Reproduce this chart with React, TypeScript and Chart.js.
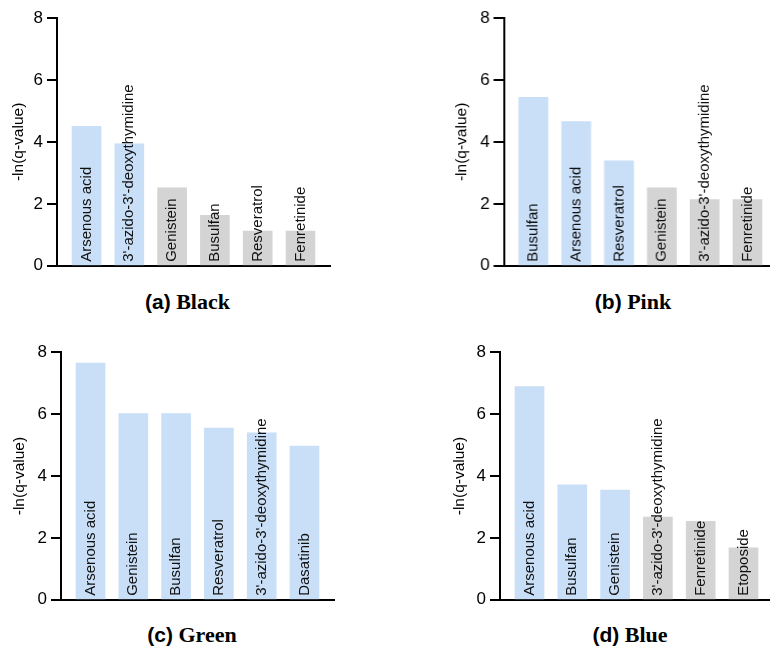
import React, { useEffect, useRef } from "react";
import { Chart, registerables } from "chart.js";

Chart.register(...registerables);

// ---- data ----
const BLACK_LABELS = ["Arsenous acid", "3'-azido-3'-deoxythymidine", "Genistein", "Busulfan", "Resveratrol", "Fenretinide"];
const BLACK_VALUES = [4.5, 3.94, 2.52, 1.63, 1.12, 1.12];

const PINK_LABELS = ["Busulfan", "Arsenous acid", "Resveratrol", "Genistein", "3'-azido-3'-deoxythymidine", "Fenretinide"];
const PINK_VALUES = [5.44, 4.66, 3.39, 2.52, 2.14, 2.14];

const GREEN_LABELS = ["Arsenous acid", "Genistein", "Busulfan", "Resveratrol", "3'-azido-3'-deoxythymidine", "Dasatinib"];
const GREEN_VALUES = [7.65, 6.02, 6.02, 5.55, 5.4, 4.97];

const BLUE_LABELS = ["Arsenous acid", "Busulfan", "Genistein", "3'-azido-3'-deoxythymidine", "Fenretinide", "Etoposide"];
const BLUE_VALUES = [6.89, 3.72, 3.55, 2.67, 2.54, 1.68];

const Y_TICKS = [0, 2, 4, 6, 8];
const THRESHOLD = 3; // -ln(0.05)
const Y_TITLE = "-ln(q-value)";

const BLUE = "#c9def7";
const GRAY = "#d4d4d4";
const SANS = "'Liberation Sans', Arial, sans-serif";
const SERIF = "'Liberation Serif', 'Times New Roman', serif";

type PanelProps = {
  labels: string[];
  values: number[];
  tag: string;
  name: string;
  canvasLeft: number;
  canvasTop: number;
  axisX: number;
  areaTop: number;
  areaBottom: number;
  yTitleX: number;
  titleCenterX: number;
  titleY: number;
};

const panelPlugin = {
  id: "panelMarks",
  afterDraw(chart: any, _args: any, opts: any) {
    const labels: string[] = opts.labels || [];
    const meta = chart.getDatasetMeta(0);
    const ctx = chart.ctx;
    const area = chart.chartArea;
    const y = chart.scales.y;

    // outward y tick marks
    ctx.save();
    ctx.fillStyle = "#000";
    Y_TICKS.forEach((v) => {
      const py = Math.round(y.getPixelForValue(v));
      ctx.fillRect(area.left - 10, py - 1, 10, 2);
    });
    ctx.restore();

    // rotated category labels on the bars
    ctx.save();
    ctx.font = `15px ${SANS}`;
    ctx.fillStyle = "#111";
    ctx.textAlign = "left";
    ctx.textBaseline = "middle";
    meta.data.forEach((el: any, i: number) => {
      ctx.save();
      ctx.translate(el.x, area.bottom - 4);
      ctx.rotate(-Math.PI / 2);
      ctx.fillText(labels[i] ?? "", 0, 0);
      ctx.restore();
    });
    ctx.restore();
  },
};

function Panel(p: PanelProps) {
  const ref = useRef<HTMLCanvasElement | null>(null);
  const AREA_W = 273;
  const canvasW = p.axisX - p.canvasLeft + AREA_W + 2;
  const canvasH = p.areaBottom - p.canvasTop + 12;

  useEffect(() => {
    if (!ref.current) return;
    const yWidth = p.axisX - p.canvasLeft;
    const chart = new Chart(ref.current, {
      type: "bar",
      data: {
        labels: p.labels,
        datasets: [
          {
            data: p.values.map((v, i) => ({ x: i, y: v })) as any,
            backgroundColor: p.values.map((v) => (v >= THRESHOLD ? BLUE : GRAY)),
            borderWidth: 0,
            barThickness: 29,
          },
        ],
      },
      options: {
        responsive: false,
        animation: false,
        layout: { padding: { top: p.areaTop - p.canvasTop, right: 2, left: 0, bottom: 0 } },
        plugins: {
          legend: { display: false },
          tooltip: { enabled: false },
          title: { display: false },
          panelMarks: { labels: p.labels },
        } as any,
        scales: {
          x: {
            type: "linear",
            offset: false,
            min: -0.69,
            max: 5.69,
            grid: { display: false },
            border: { display: true, color: "#000", width: 2 },
            ticks: { display: false },
            afterFit: (s: any) => {
              s.height = 12;
            },
          },
          y: {
            min: 0,
            max: 8,
            afterBuildTicks: (s: any) => {
              s.ticks = Y_TICKS.map((v) => ({ value: v }));
            },
            grid: {
              display: true,
              drawOnChartArea: false,
              drawTicks: true,
              tickLength: 10,
              color: "#000",
              tickColor: "#000",
              tickWidth: 2,
              lineWidth: 2,
            },
            border: { display: true, color: "#000", width: 2 },
            ticks: { color: "#000", font: { family: SANS, size: 17 }, padding: 4 },
            title: {
              display: true,
              text: Y_TITLE,
              color: "#000",
              font: { family: SANS, size: 15.5 },
              padding: { top: p.yTitleX - p.canvasLeft - 9.3, bottom: 0 },
            },
            afterFit: (s: any) => {
              s.width = yWidth;
            },
          },
        },
      },
      plugins: [panelPlugin],
    });
    return () => chart.destroy();
  }, []);

  return (
    <>
      <canvas
        ref={ref}
        width={canvasW}
        height={canvasH}
        style={{ position: "absolute", left: p.canvasLeft, top: p.canvasTop, width: canvasW, height: canvasH }}
      />
      <div
        style={{
          position: "absolute",
          left: p.titleCenterX - 150,
          width: 300,
          top: p.titleY - 14,
          height: 28,
          lineHeight: "28px",
          textAlign: "center",
          fontFamily: SERIF,
          fontWeight: "bold",
          fontSize: 22,
          color: "#000",
          whiteSpace: "pre",
        }}
      >
        <span style={{ fontFamily: SANS, fontSize: 21 }}>{p.tag}</span>
        {" " + p.name}
      </div>
    </>
  );
}

export default function App() {
  return (
    <div
      style={{
        position: "fixed",
        left: 0,
        top: 0,
        width: 770,
        height: 648,
        overflow: "hidden",
        background: "#fff",
      }}
    >
      <Panel labels={BLACK_LABELS} values={BLACK_VALUES} tag="(a)" name="Black" canvasLeft={0} canvasTop={0} axisX={57} areaTop={18} areaBottom={268} yTitleX={18.5} titleCenterX={187.5} titleY={302} />
      <Panel labels={PINK_LABELS} values={PINK_VALUES} tag="(b)" name="Pink" canvasLeft={385} canvasTop={0} axisX={503.5} areaTop={18} areaBottom={268} yTitleX={462} titleCenterX={633} titleY={302} />
      <Panel labels={GREEN_LABELS} values={GREEN_VALUES} tag="(c)" name="Green" canvasLeft={0} canvasTop={330} axisX={61} areaTop={352.3} areaBottom={602.3} yTitleX={20} titleCenterX={192} titleY={635} />
      <Panel labels={BLUE_LABELS} values={BLUE_VALUES} tag="(d)" name="Blue" canvasLeft={385} canvasTop={330} axisX={500} areaTop={352.3} areaBottom={602.3} yTitleX={460} titleCenterX={630} titleY={635} />
    </div>
  );
}
